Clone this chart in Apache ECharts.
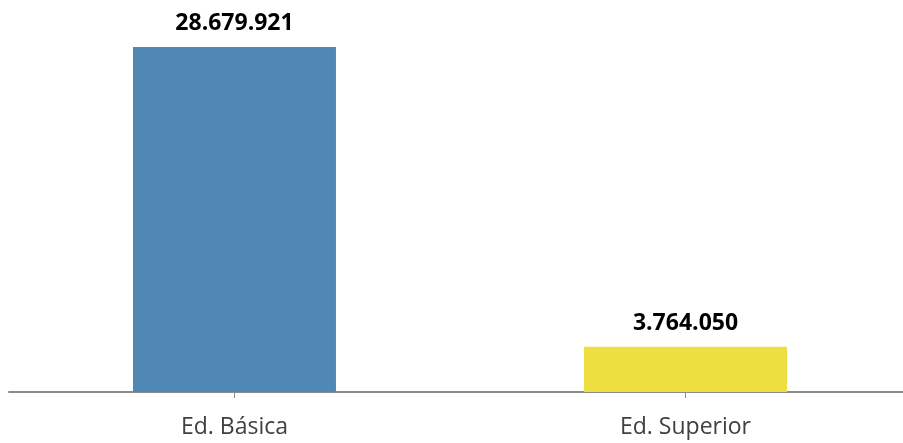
<!DOCTYPE html>
<html>
<head>
<meta charset="utf-8">
<script src="https://cdn.jsdelivr.net/npm/echarts@6/dist/echarts.min.js"></script>
<style>
  html, body { margin: 0; padding: 0; background: #fff; }
  #chart { width: 903px; height: 443px; }
</style>
</head>
<body>
<div id="chart"></div>
<script>
const categories = ['Ed. Básica', 'Ed. Superior']
const values = [28679921, 3764050]
const colors = ['#4F88B5', '#EDDF40']

function fmt(v) {
  return String(v).replace(/\B(?=(\d{3})+(?!\d))/g, '.')
}

const chart = echarts.init(document.getElementById('chart'))
chart.setOption({
  animation: false,
  grid: { left: 9, width: 902, top: 47, bottom: 51, outerBoundsMode: 'none', containLabel: false },
  xAxis: {
    type: 'category',
    data: categories,
    axisLine: { lineStyle: { color: '#8c8c8c', width: 2 } },
    axisTick: { show: true, alignWithLabel: true, length: 6, lineStyle: { color: '#8c8c8c' } },
    axisLabel: { color: '#404040', fontSize: 23, fontFamily: 'Open Sans', margin: 24 }
  },
  yAxis: {
    type: 'value',
    min: 0,
    max: 'dataMax',
    show: false,
    splitLine: { show: false }
  },
  series: [
    {
      type: 'bar',
      barWidth: '45%',
      data: values.map((v, i) => ({ value: v, itemStyle: { color: colors[i] } })),
      label: {
        show: true,
        position: 'top',
        distance: 12,
        color: '#000',
        fontWeight: 'bold',
        fontSize: 23,
        fontFamily: 'Open Sans',
        formatter: p => fmt(p.value)
      }
    }
  ]
})
</script>
</body>
</html>
